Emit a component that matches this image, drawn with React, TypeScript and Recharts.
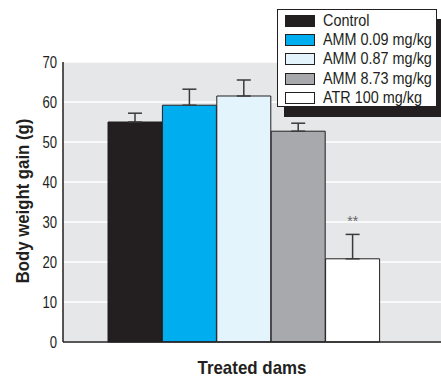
import React from 'react';
import { BarChart, Bar, XAxis, YAxis, CartesianGrid, ErrorBar, Cell, ReferenceDot } from 'recharts';

const groups = ['Control', 'AMM 0.09 mg/kg', 'AMM 0.87 mg/kg', 'AMM 8.73 mg/kg', 'ATR 100 mg/kg'];
const gain = [55, 59.2, 61.5, 52.7, 20.8];
const sem = [2.2, 4, 4, 2, 6.1];
const colors = ['#231f20', '#00aeef', '#e4f4fc', '#a7a9ac', '#ffffff'];
const yTicks = [0, 10, 20, 30, 40, 50, 60, 70];
const sigGroup = 'ATR 100 mg/kg';
const sigY = 30.2;

const data = groups.map((g, i) => ({ group: g, gain: gain[i], err: [0, sem[i]] }));

const font = "'Liberation Sans', Arial, sans-serif";
const ink = '#231f20';

// narrow look: the original uses a condensed face, squeeze Liberation Sans instead
const YTick = (props: any) => {
  const { x, y, payload } = props;
  return (
    <text
      transform={`translate(${x} ${y}) scale(0.82 1)`}
      textAnchor="end"
      dy="0.36em"
      fill={ink}
      fontSize={16}
      fontFamily={font}
    >
      {payload.value}
    </text>
  );
};

export default function App() {
  return (
    <div style={{ position: 'absolute', left: 0, top: 0, width: 441, height: 376, background: '#fff', fontFamily: font, color: ink }}>
      <BarChart
        width={441}
        height={376}
        data={data}
        margin={{ top: 62, right: 0, left: 0, bottom: 33 }}
        barCategoryGap={0}
      >
        <CartesianGrid vertical={false} stroke="#ffffff" strokeWidth={1.5} fill="#e6e7e8" />
        <XAxis
          dataKey="group"
          tick={false}
          tickLine={false}
          height={1}
          padding={{ left: 45, right: 61 }}
          axisLine={{ stroke: ink, strokeWidth: 1.5 }}
        />
        <YAxis
          domain={[0, 70]}
          ticks={yTicks}
          width={63}
          tickLine={false}
          axisLine={{ stroke: ink, strokeWidth: 1.5 }}
          tick={<YTick />}
          tickMargin={0}
        />
        <Bar dataKey="gain" isAnimationActive={false} stroke={ink} strokeWidth={1}>
          {data.map((d, i) => (
            <Cell key={d.group} fill={colors[i]} />
          ))}
          <ErrorBar dataKey="err" direction="y" width={7} stroke="#3a3a3a" strokeWidth={1.5} />
        </Bar>
        <ReferenceDot
          x={sigGroup}
          y={sigY}
          r={0}
          stroke="none"
          label={{ value: '**', fill: '#666', fontSize: 14, fontFamily: font }}
        />
      </BarChart>

      <div
        style={{
          position: 'absolute', left: 23, top: 201, width: 0, height: 0,
        }}
      >
        <span
          style={{
            position: 'absolute', left: 0, top: 0, whiteSpace: 'nowrap', fontWeight: 'bold', fontSize: 18,
            transform: 'translate(-50%, -50%) rotate(-90deg) scale(0.93, 1)', lineHeight: 1,
          }}
        >
          Body weight gain (g)
        </span>
      </div>

      <div style={{ position: 'absolute', left: 252, top: 367, width: 0, height: 0 }}>
        <span
          style={{
            position: 'absolute', left: 0, top: 0, whiteSpace: 'nowrap', fontWeight: 'bold', fontSize: 19,
            transform: 'translate(-50%, -50%) scale(0.89, 1)', lineHeight: 1,
          }}
        >
          Treated dams
        </span>
      </div>

      <div
        style={{
          position: 'absolute', left: 277, top: 9, width: 160, height: 98,
          background: '#fff', border: `1px solid ${ink}`, boxShadow: `7px 10px 0 ${ink}`,
          boxSizing: 'border-box', paddingTop: 1, paddingLeft: 7,
        }}
      >
        {groups.map((g, i) => (
          <div key={g} style={{ display: 'flex', alignItems: 'center', height: 19.3 }}>
            <div style={{ width: 30, height: 12, flex: 'none', background: colors[i], border: `1px solid ${ink}`, boxSizing: 'border-box', marginRight: 8 }} />
            <span style={{ fontSize: 16, whiteSpace: 'nowrap', display: 'inline-block', transform: 'scale(0.9, 1)', transformOrigin: 'left center', lineHeight: 1 }}>{g}</span>
          </div>
        ))}
      </div>
    </div>
  );
}
